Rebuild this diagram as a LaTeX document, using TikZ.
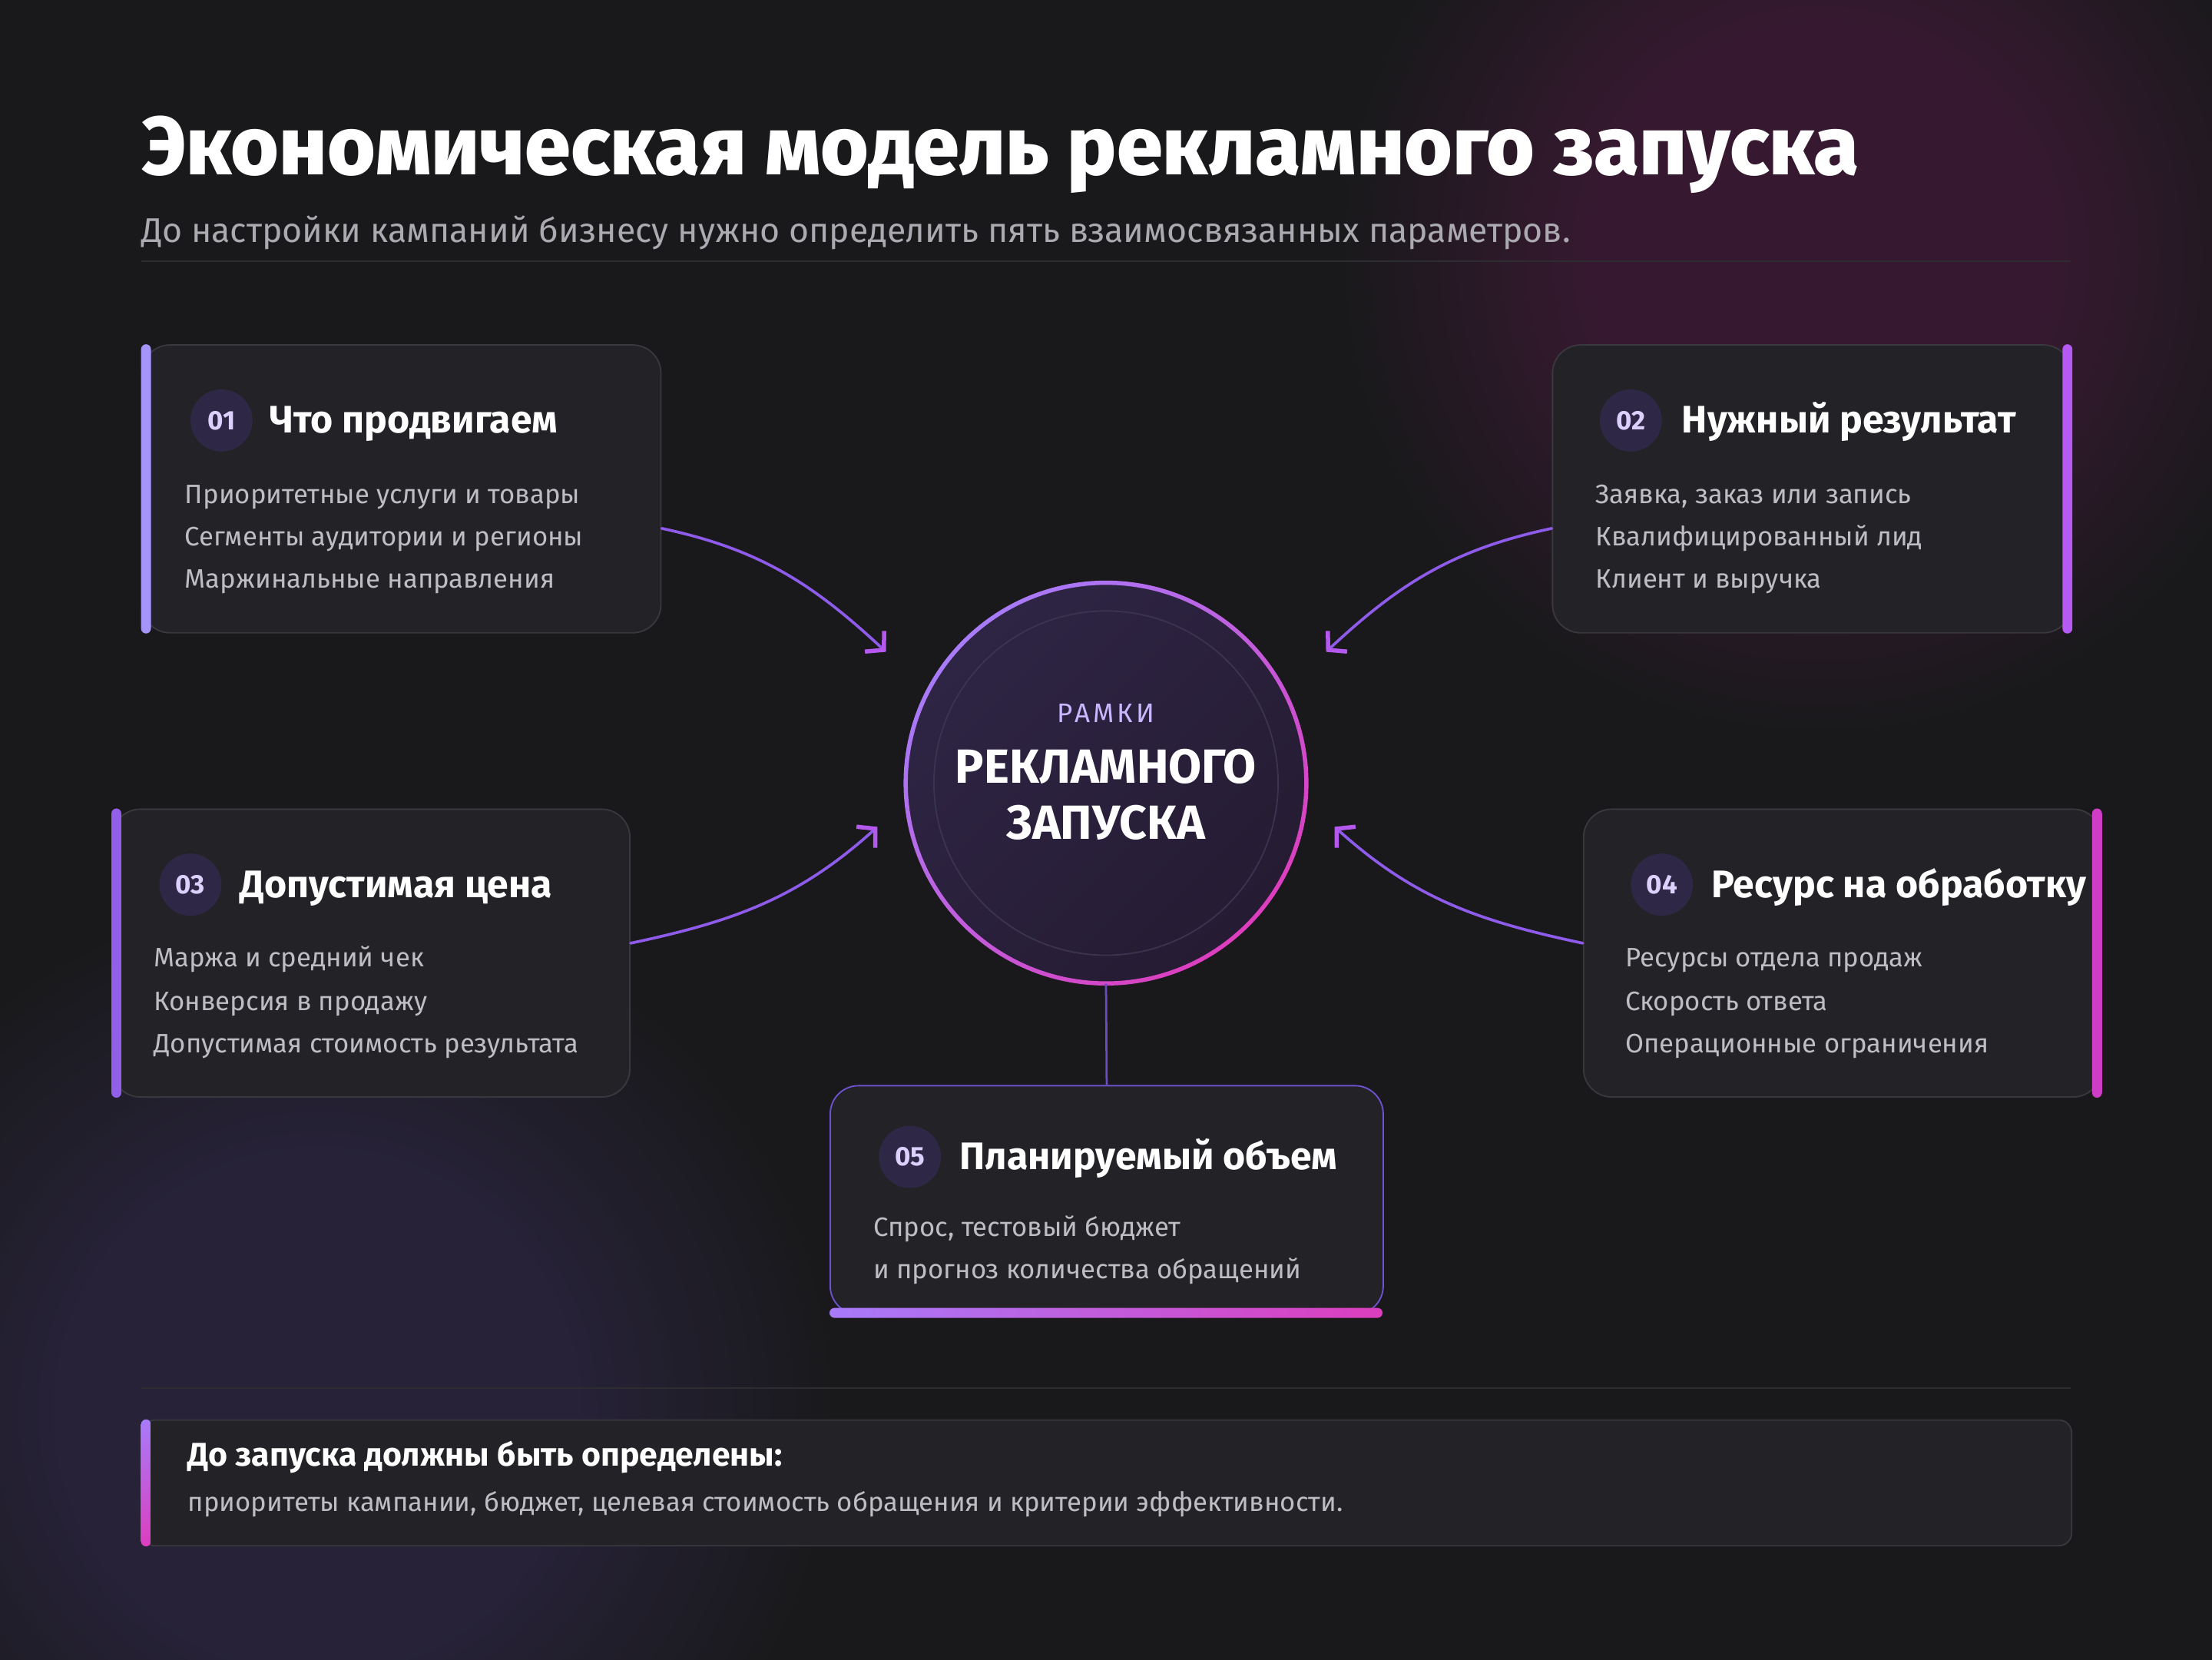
\documentclass[tikz,border=0pt]{standalone}
\usepackage{fontspec}
\setmainfont{Fira Sans}
\IfFontExistsTF{Fira Sans ExtraBold}
    {\newfontfamily\heavyfont{Fira Sans ExtraBold}}
    {\newfontfamily\heavyfont{Fira Sans}[UprightFont=* Bold]}
\usepackage{xcolor}
\usepackage{tikz}
\usetikzlibrary{arrows.meta}

\definecolor{bgcol}{HTML}{19191B}
\definecolor{glowpink}{HTML}{361930}
\definecolor{glowviolet}{HTML}{272238}
\definecolor{rulecol}{HTML}{2C2C31}
\definecolor{cardfill}{HTML}{232327}
\definecolor{cardline}{HTML}{38383E}
\definecolor{badgefill}{HTML}{2E2846}
\definecolor{badgetext}{HTML}{DCD0FF}
\definecolor{itemtext}{HTML}{BDBDC3}
\definecolor{subtext}{HTML}{AAAAB0}
\definecolor{accone}{HTML}{A594F9}
\definecolor{acctwo}{HTML}{B55AF3}
\definecolor{accthree}{HTML}{925FE9}
\definecolor{accfour}{HTML}{CF3CC6}
\definecolor{lavender}{HTML}{A77BFA}
\definecolor{magenta}{HTML}{DC3EBE}
\definecolor{linkcol}{HTML}{8E5BEA}
\definecolor{tipcol}{HTML}{B558F0}
\definecolor{stemcol}{HTML}{6A4BC0}
\definecolor{hubtop}{HTML}{2E2545}
\definecolor{hubbottom}{HTML}{251B32}
\definecolor{hubinner}{HTML}{3A3450}
\definecolor{smallcaps}{HTML}{C9B8FF}
\definecolor{fivecol}{HTML}{6E52D2}

\pgfdeclareradialshading{pinkglow}{\pgfpoint{0bp}{0bp}}{color(0bp)=(glowpink); color(12bp)=(glowpink); color(25bp)=(bgcol); color(50bp)=(bgcol)}
\pgfdeclareradialshading{violetglow}{\pgfpoint{0bp}{0bp}}{color(0bp)=(glowviolet); color(12bp)=(glowviolet); color(25bp)=(bgcol); color(50bp)=(bgcol)}

\begin{document}
\begin{tikzpicture}[x=1pt,y=-1pt,
    card/.style={draw=cardline, fill=cardfill, line width=1pt, rounded corners=20pt, inner sep=0pt, anchor=north west},
    badge/.style={circle, fill=badgefill, minimum size=44pt, inner sep=0pt, text=badgetext, font=\bfseries\fontsize{19}{21}\selectfont},
    head/.style={anchor=base west, inner sep=0pt, text=white, font=\bfseries\fontsize{27.2}{32}\selectfont},
    item/.style={anchor=base west, inner sep=0pt, text=itemtext, font=\fontsize{18.9}{22}\selectfont},
    link/.style={draw=linkcol, line width=2pt, line cap=round, -{Straight Barb[length=9pt,width=20pt,line width=3pt,color=tipcol]}},
]
    \useasboundingbox (0,0) rectangle (1568,1176);
    \fill[bgcol] (-4,-4) rectangle (1572,1180);
    % soft glows
    \begin{scope}
        \clip (-4,-4) rectangle (1572,1180);
        \shade[shading=pinkglow] (1290,180) circle (340pt);
        \shade[shading=violetglow] (225,1000) circle (370pt);
    \end{scope}

    % title
    \node[anchor=base west, inner sep=0pt, text=white, font=\heavyfont\fontsize{58.5}{66}\selectfont] (title) at (100,124) {Экономическая модель рекламного запуска};
    \node[anchor=base west, inner sep=0pt, text=subtext, font=\fontsize{24.3}{28}\selectfont] (subtitle) at (100,172) {До настройки кампаний бизнесу нужно определить пять взаимосвязанных параметров.};
    \draw[rulecol, line width=1pt] (100,185) -- (1468,185);

    % cards
    \node[card, minimum width=368pt, minimum height=204pt] (c1) at (100,244) {};
    \node[card, minimum width=368pt, minimum height=204pt] (c2) at (1100,244) {};
    \node[card, minimum width=367pt, minimum height=204pt] (c3) at (79,573) {};
    \node[card, minimum width=367pt, minimum height=204pt] (c4) at (1122,573) {};
    \node[card, draw=fivecol, minimum width=392pt, minimum height=162pt] (c5) at (588,769) {};

    \fill[accone, rounded corners=3.5pt] (c1.north west) rectangle ([xshift=7pt]c1.south west);
    \fill[acctwo, rounded corners=3.5pt] ([xshift=-7pt]c2.north east) rectangle (c2.south east);
    \fill[accthree, rounded corners=3.5pt] (c3.north west) rectangle ([xshift=7pt]c3.south west);
    \fill[accfour, rounded corners=3.5pt] ([xshift=-7pt]c4.north east) rectangle (c4.south east);
    \shade[left color=lavender, right color=magenta, rounded corners=3.5pt] (588,927) rectangle (980,934);

    % center
    \node[circle, minimum size=284pt, inner sep=0pt] (hub) at (784,555) {};
    \shade[top color=hubtop, bottom color=hubbottom, shading angle=45] (hub.center) circle (142pt);
    \draw[hubinner, line width=1pt] (hub.center) circle (122pt);
    \shade[even odd rule, top color=lavender, bottom color=magenta, shading angle=45] (hub.center) circle (143.5pt) (hub.center) circle (140.5pt);
    \node[anchor=base, inner sep=0pt, text=smallcaps, font=\addfontfeature{LetterSpace=12}\fontsize{19}{22}\selectfont] (hubsmall) at (784,512) {РАМКИ};
    \node[anchor=base, inner sep=0pt, text=white, font=\bfseries\fontsize{34}{38}\selectfont] (hubone) at (784,555) {РЕКЛАМНОГО};
    \node[anchor=base, inner sep=0pt, text=white, font=\bfseries\fontsize{34}{38}\selectfont] (hubtwo) at (784,595) {ЗАПУСКА};

    % connectors
    \coordinate (t1) at (628,462);
    \coordinate (t2) at (940,462);
    \coordinate (t3) at (622,586);
    \coordinate (t4) at (946,586);
    \draw[link] ([yshift=-28pt]c1.east) to[out=-12,in=137] (t1);
    \draw[link] ([yshift=-28pt]c2.west) to[out=192,in=43] (t2);
    \draw[link] ([yshift=7pt]c3.east) to[out=12,in=-138] (t3);
    \draw[link] ([yshift=7pt]c4.west) to[out=168,in=-42] (t4);
    \draw[stemcol, line width=1.5pt] (hub.south) -- (c5.north);

    % card 01
    \node[badge] (b1) at (157,298) {01};
    \node[head] (h1) at (191,307) {Что продвигаем};
    \node[item] at (131,357) {Приоритетные услуги и товары};
    \node[item] at (131,387) {Сегменты аудитории и регионы};
    \node[item] at (131,417) {Маржинальные направления};

    % card 02
    \node[badge] (b2) at (1156,298) {02};
    \node[head] (h2) at (1192,307) {Нужный результат};
    \node[item] at (1131,357) {Заявка, заказ или запись};
    \node[item] at (1131,387) {Квалифицированный лид};
    \node[item] at (1131,417) {Клиент и выручка};

    % card 03
    \node[badge] (b3) at (135,627) {03};
    \node[head] (h3) at (170,636) {Допустимая цена};
    \node[item] at (109,685) {Маржа и средний чек};
    \node[item] at (109,716) {Конверсия в продажу};
    \node[item] at (109,746) {Допустимая стоимость результата};

    % card 04
    \node[badge] (b4) at (1178,627) {04};
    \node[head] (h4) at (1213,636) {Ресурс на обработку};
    \node[item] at (1152,685) {Ресурсы отдела продаж};
    \node[item] at (1152,716) {Скорость ответа};
    \node[item] at (1152,746) {Операционные ограничения};

    % card 05
    \node[badge] (b5) at (645,820) {05};
    \node[head] (h5) at (680,829) {Планируемый объем};
    \node[item] at (619,876) {Спрос, тестовый бюджет};
    \node[item] at (619,906) {и прогноз количества обращений};

    % bottom note
    \draw[rulecol, line width=1pt] (100,984) -- (1468,984);
    \node[card, rounded corners=9pt, draw=cardline, fill=cardfill, minimum width=1368pt, minimum height=89pt] (note) at (100,1006) {};
    \shade[top color=lavender, bottom color=magenta, rounded corners=3.5pt] (note.north west) rectangle ([xshift=7pt]note.south west);
    \node[anchor=base west, inner sep=0pt, text=white, font=\bfseries\fontsize{23.3}{27}\selectfont] (notehead) at (133,1039) {До запуска должны быть определены:};
    \node[item] (notetext) at (133,1071) {приоритеты кампании, бюджет, целевая стоимость обращения и критерии эффективности.};
\end{tikzpicture}
\end{document}
